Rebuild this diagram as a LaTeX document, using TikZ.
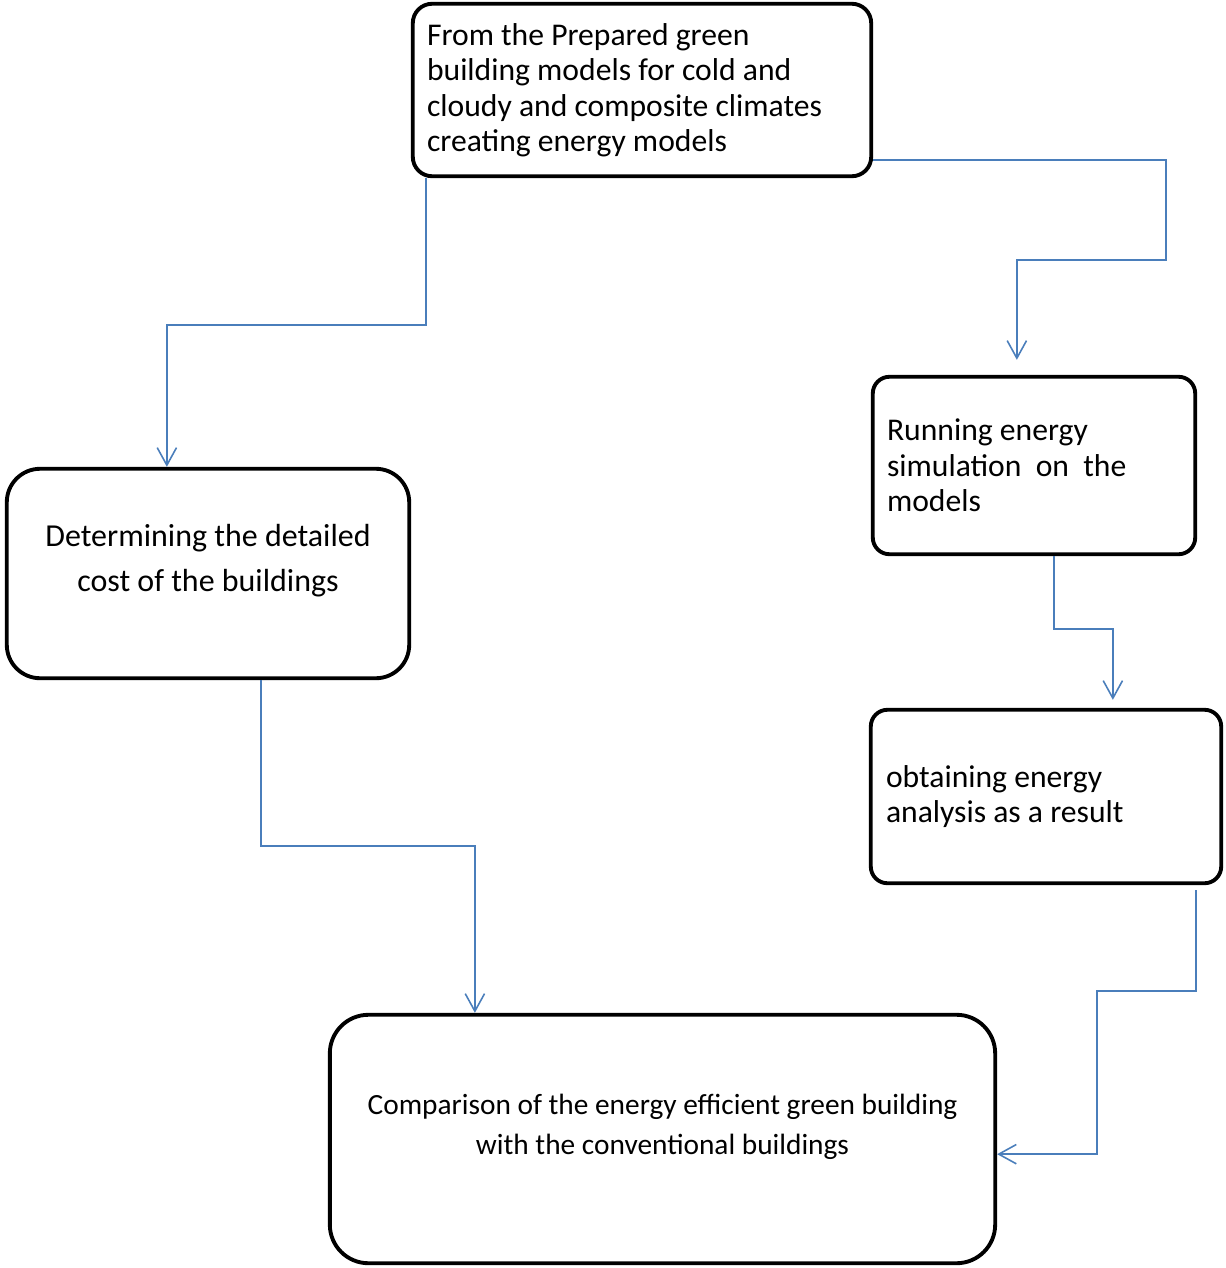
\documentclass[tikz,border=0pt]{standalone}
\usepackage{fontspec}
\setmainfont{Carlito}
\usetikzlibrary{arrows.meta,calc}

\definecolor{linkblue}{RGB}{74,126,187}

\begin{document}
\begin{tikzpicture}[x=0.02cm, y=-0.02cm,
  stage/.style={draw, line width=2.2pt, rounded corners=#1},
  leftbox/.style={align=flush left, font=\fontsize{18}{20.2}\selectfont},
  link/.style={draw=linkblue, line width=0.9pt, -{Straight Barb[length=10pt,width=11pt]}}]
  \useasboundingbox (0,0) rectangle (1225,1268);

  % boxes
  \node[stage=11pt, leftbox, minimum width=9.17cm, minimum height=3.45cm, text width=8.6cm] (top) at (642,90)
    {From the Prepared green\\building models for cold and\\cloudy and composite climates\\creating energy models};
  \node[stage=9.5pt, leftbox, minimum width=6.45cm, minimum height=3.55cm, text width=5.88cm] (run) at (1034,465.5)
    {Running energy\\simulation\ \ on\ \ the\\models};
  \node[stage=9.5pt, leftbox, minimum width=7.01cm, minimum height=3.47cm, text width=6.4cm] (result) at (1046,796.5)
    {obtaining energy\\analysis as a result};
  \node[stage=19pt, minimum width=8.05cm, minimum height=4.19cm] (cost) at (208,573.5) {};
  \node[stage=22pt, minimum width=13.31cm, minimum height=4.97cm] (compare) at (662.5,1139) {};

  \node[align=center, font=\fontsize{18.2}{25.5}\selectfont] (cost-text) at (208,561)
    {Determining the detailed\\cost of the buildings};
  \node[align=center, font=\fontsize{16.7}{23}\selectfont] (compare-text) at (662.5,1127)
    {Comparison of the energy efficient green building\\with the conventional buildings};

  % connectors
  \draw[link] ($(top.south west)+(15,0)$) -- ++(0,147) -| ($(cost.north west)+(162,0)$);
  \draw[link] ($(top.south east)+(0,-18)$) -- ++(293,0) -- ++(0,100) -| ($(run.north west)+(146,-15)$);
  \draw[link] ($(run.south west)+(183,0)$) -- ++(0,73) -| ($(result.north west)+(244,-8)$);
  \draw[link] ($(cost.south west)+(256,0)$) -- ++(0,166) -| ($(compare.north west)+(147,0)$);
  \draw[link] ($(result.south east)+(-27,5)$) -- ++(0,101) -- ++(-99,0) |- ($(compare.south east)+(0,-111)$);
\end{tikzpicture}
\end{document}
